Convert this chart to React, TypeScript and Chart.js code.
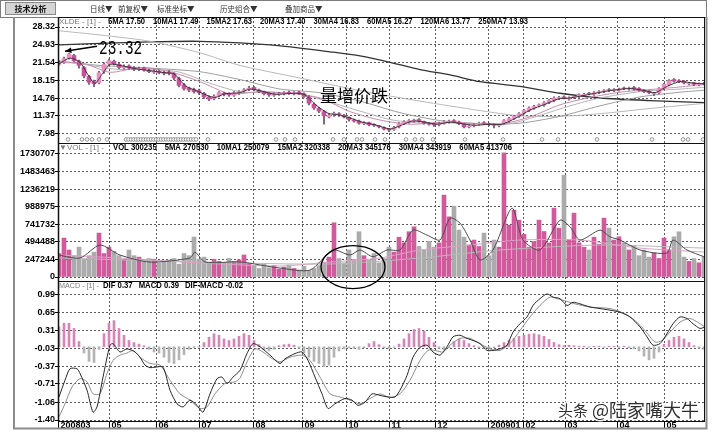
import React, { useEffect, useRef } from 'react';
import { Chart, registerables } from 'chart.js';

Chart.register(...registerables);

// ---------------- data ----------------
const MONTH_POS = [-0.2, 10, 19.4, 28, 38.8, 48.6, 57.4, 66, 75.2, 85.8, 92.8, 101.2, 111.6, 121];
const MONTH_LABELS = ['200803', '05', '06', '07', '08', '09', '10', '11', '12', '200901', '02', '03', '04', '05'];

const PRICE_TICKS = [28.32, 24.93, 21.54, 18.15, 14.76, 11.37, 7.98];
const VOL_TICKS = [1730707, 1483463, 1236219, 988975, 741732, 494488, 247244, 0];
const MACD_TICKS = [0.99, 0.65, 0.31, -0.03, -0.37, -0.71, -1.06, -1.4];

const CLOSE = [
  21.5, 22.3, 23.2, 21.9, 21.0, 19.0, 17.8, 17.5, 19.6, 21.2,
  21.9, 21.3, 20.6, 20.8, 20.5, 20.3, 20.4, 20.1, 19.8, 19.9,
  19.6, 19.5, 19.5, 18.6, 17.2, 16.6, 16.3, 16.0, 15.8, 15.0,
  14.6, 15.1, 15.8, 15.5, 15.4, 15.8, 16.0, 16.4, 16.7, 16.4,
  16.0, 15.6, 15.4, 15.6, 15.7, 15.8, 15.7, 15.8, 15.7, 15.1,
  13.8, 12.9, 12.3, 11.4, 11.5, 11.9, 11.6, 11.2, 10.7, 10.4,
  10.0, 10.1, 9.7, 9.6, 9.3, 8.9, 8.7, 9.2, 9.9, 10.3,
  10.5, 10.6, 10.4, 10.0, 9.8, 9.7, 10.0, 10.3, 10.4, 10.3,
  9.9, 9.3, 9.5, 9.7, 10.0, 9.9, 9.7, 9.6, 9.7, 10.5,
  10.9, 11.3, 11.8, 12.4, 12.9, 13.2, 13.5, 13.9, 14.3, 14.8,
  14.9, 14.8, 14.8, 15.1, 15.4, 15.5, 15.6, 15.8, 16.0, 16.2,
  16.3, 16.4, 16.5, 16.6, 16.7, 16.5, 16.3, 16.0, 15.8, 15.7,
  16.6, 17.4, 18.1, 18.0, 17.9, 17.7, 17.6, 17.4, 17.5, 17.5,
];
const OPEN = [
  21.2, 21.6, 22.4, 22.9, 21.8, 20.6, 18.9, 17.9, 17.7, 19.8,
  21.3, 21.8, 21.2, 20.5, 20.9, 20.6, 20.2, 20.5, 20.1, 19.7,
  19.9, 19.7, 19.7, 19.4, 18.5, 17.3, 16.7, 16.4, 16.2, 15.7,
  15.0, 14.7, 15.2, 15.7, 15.6, 15.3, 15.7, 16.1, 16.4, 16.8,
  16.3, 16.0, 15.7, 15.3, 15.5, 15.6, 15.9, 15.6, 15.9, 15.6,
  15.0, 13.6, 12.8, 12.2, 11.2, 11.6, 11.8, 11.5, 11.1, 10.6,
  10.4, 9.9, 10.1, 9.8, 9.5, 9.2, 8.9, 8.8, 9.3, 9.9,
  10.2, 10.4, 10.7, 10.3, 10.0, 9.9, 9.7, 10.0, 10.2, 10.5,
  10.2, 9.8, 9.3, 9.5, 9.8, 10.1, 9.9, 9.8, 9.5, 9.8,
  10.4, 10.9, 11.3, 11.9, 12.4, 12.8, 13.3, 13.4, 13.9, 14.3,
  14.7, 15.0, 14.6, 14.9, 15.1, 15.3, 15.7, 15.5, 15.8, 16.0,
  16.4, 16.2, 16.3, 16.7, 16.5, 16.8, 16.6, 16.3, 16.1, 15.6,
  15.8, 16.6, 17.3, 18.3, 18.1, 18.0, 17.5, 17.7, 17.3, 17.6,
];
const HIGH = [
  21.9, 22.6, 23.32, 23.1, 22.0, 20.8, 19.1, 18.2, 19.9, 21.5,
  22.2, 22.0, 21.4, 21.1, 21.1, 20.8, 20.7, 20.7, 20.3, 20.2,
  20.1, 19.9, 20.0, 19.6, 18.8, 17.6, 16.9, 16.7, 16.5, 15.9,
  15.2, 15.4, 16.0, 15.9, 15.8, 16.0, 16.2, 16.6, 17.0, 17.0,
  16.5, 16.1, 15.8, 15.8, 15.9, 16.0, 16.1, 16.0, 16.1, 15.8,
  15.2, 13.9, 13.0, 12.4, 11.8, 12.1, 12.0, 11.7, 11.2, 10.8,
  10.6, 10.3, 10.2, 9.9, 9.6, 9.3, 9.0, 9.4, 10.1, 10.5,
  10.7, 10.8, 10.9, 10.4, 10.1, 10.0, 10.2, 10.5, 10.6, 10.7,
  10.4, 9.9, 9.7, 9.9, 10.2, 10.3, 10.0, 9.9, 9.8, 10.7,
  11.1, 11.5, 12.0, 12.6, 13.1, 13.4, 13.7, 14.1, 14.5, 15.0,
  15.1, 15.2, 15.0, 15.3, 15.6, 15.7, 15.9, 16.0, 16.2, 16.4,
  16.6, 16.6, 16.7, 16.9, 16.9, 17.0, 16.8, 16.4, 16.2, 15.9,
  16.8, 17.6, 18.3, 18.5, 18.3, 18.1, 17.8, 17.8, 17.7, 17.8,
];
const LOW = [
  21.0, 21.4, 22.2, 21.7, 20.5, 18.6, 17.4, 16.95, 17.5, 19.5,
  21.0, 21.1, 20.4, 20.3, 20.3, 20.0, 20.0, 19.9, 19.6, 19.5,
  19.4, 19.2, 19.2, 18.3, 16.9, 16.3, 16.0, 15.7, 15.5, 14.7,
  14.3, 14.5, 15.0, 15.2, 15.1, 15.1, 15.5, 15.9, 16.2, 16.2,
  15.8, 15.4, 15.1, 15.1, 15.3, 15.4, 15.5, 15.4, 15.5, 14.9,
  13.5, 12.6, 12.0, 9.8, 11.0, 11.3, 11.3, 11.0, 10.4, 10.2,
  9.8, 9.7, 9.5, 9.4, 9.1, 8.7, 8.4, 8.6, 9.1, 9.7,
  10.0, 10.2, 10.2, 9.8, 9.6, 9.4, 9.5, 9.8, 10.0, 10.1,
  9.7, 9.1, 9.1, 9.3, 9.6, 9.7, 9.5, 9.1, 9.3, 9.7,
  10.2, 10.7, 11.1, 11.7, 12.2, 12.6, 13.1, 13.2, 13.7, 14.1,
  14.5, 14.6, 14.4, 14.7, 14.9, 15.2, 15.4, 15.3, 15.6, 15.8,
  16.0, 16.0, 16.1, 16.4, 16.3, 16.3, 16.1, 15.8, 15.6, 15.3,
  15.6, 16.4, 17.1, 17.8, 17.7, 17.5, 17.3, 17.2, 17.1, 17.3,
];

const VOLUME = [
  330000, 548000, 380000, 300000, 420000, 250000, 300000, 350000, 618000, 330000,
  420000, 360000, 300000, 250000, 380000, 300000, 280000, 220000, 260000, 250000,
  200000, 220000, 240000, 260000, 180000, 330000, 300000, 562000, 250000, 280000,
  200000, 250000, 220000, 200000, 260000, 220000, 240000, 310000, 190000, 150000,
  120000, 180000, 130000, 160000, 110000, 140000, 170000, 120000, 100000, 150000,
  90000, 120000, 160000, 210000, 280000, 763000, 260000, 200000, 380000, 250000,
  637000, 300000, 240000, 330000, 200000, 260000, 420000, 350000, 560000, 480000,
  637000, 707000, 430000, 380000, 500000, 420000, 480000, 1152000, 847000, 997000,
  660000, 560000, 450000, 520000, 430000, 618000, 300000, 520000, 420000, 1746000,
  730000, 941000, 800000, 600000, 420000, 500000, 800000, 640000, 480000, 969000,
  688000, 1433000, 520000, 899000, 480000, 420000, 380000, 560000, 460000, 829000,
  688000, 520000, 566000, 480000, 380000, 440000, 300000, 380000, 280000, 340000,
  260000, 548000, 380000, 566000, 636000, 280000, 220000, 260000, 200000, 280000,
];

const MACD_HIST = [
  0.38, 0.45, 0.45, 0.35, 0.1, -0.12, -0.28, -0.3, -0.05, 0.25,
  0.45, 0.5, 0.35, 0.22, 0.12, 0.08, 0.05, 0.02, -0.05, -0.1,
  -0.12, -0.2, -0.3, -0.32, -0.25, -0.15, -0.05, -0.02, -0.01, 0.08,
  0.18, 0.25, 0.22, 0.15, 0.12, 0.15, 0.2, 0.25, 0.22, 0.12,
  0.04, -0.06, -0.08, -0.05, 0.02, 0.04, 0.05, 0.03, -0.03, -0.12,
  -0.2, -0.28, -0.32, -0.38, -0.35, -0.2, -0.08, -0.04, -0.02, -0.03,
  -0.05, -0.02, 0.06, 0.1, 0.04, -0.02, -0.03, -0.01, 0.05, 0.15,
  0.25, 0.33, 0.35, 0.3, 0.18, 0.08, -0.03, -0.06, -0.02, 0.1,
  0.15, 0.12, 0.06, 0.02, -0.02, -0.03, -0.04, -0.02, 0.03, 0.08,
  0.12, 0.16, 0.2, 0.22, 0.24, 0.25, 0.23, 0.2, 0.14, 0.08,
  0.04, 0.02, 0.03, 0.02, 0.01, 0.01, -0.01, 0.01, 0.01, -0.01,
  0.01, 0.01, -0.01, 0.01, -0.02, -0.04, -0.08, -0.18, -0.25, -0.22,
  -0.1, 0.05, 0.12, 0.18, 0.2, 0.15, 0.08, 0.02, -0.03, -0.05,
];

const DIF: [number, number][] = [
  [0, -0.96], [1.2, -0.64], [2.2, -0.42], [3.6, -0.42], [4.2, -0.51], [5.6, -0.83], [6.8, -1.25], [7.6, -1.15],
  [8.8, -0.58], [10.2, 0.03], [10.8, 0.06], [12.2, -0.1], [13.6, -0.04], [15.2, -0.1], [16.2, -0.2], [17.2, -0.35],
  [18.2, -0.4], [19.2, -0.39], [20.8, -0.39], [22.2, -0.83], [23.6, -1.09], [24.8, -1.15], [26.2, -1.02], [27.6, -1.12],
  [28.8, -1.25], [30.2, -0.9], [31.6, -0.61], [32.6, -0.58], [33.6, -0.7], [34.8, -0.58], [36.2, -0.45], [37.6, -0.13],
  [38.8, 0.06], [40.2, 0.0], [42.2, -0.16], [44.2, -0.32], [45.2, -0.23], [47.2, -0.13], [48.6, -0.1], [49.8, -0.26],
  [51.2, -0.58], [52.6, -0.9], [53.8, -1.18], [55.2, -1.09], [57.2, -0.99], [58.6, -1.02], [59.8, -1.12], [61.2, -1.06],
  [62.6, -0.9], [64.2, -0.93], [65.8, -0.96], [67.2, -0.96], [68.2, -0.83], [69.6, -0.55], [70.8, -0.2], [72.2, -0.01],
  [73.6, 0.03], [74.8, -0.1], [76.2, -0.16], [77.6, 0.0], [78.8, 0.19], [80.2, 0.22], [81.6, 0.16], [82.8, 0.12],
  [84.2, 0.06], [85.6, -0.07], [86.8, -0.07], [88.2, -0.04], [89.6, 0.03], [90.8, 0.28], [92.2, 0.44], [93.6, 0.57],
  [94.8, 0.79], [96.2, 0.92], [97.6, 1.01], [98.8, 0.95], [100.2, 0.92], [101.6, 0.79], [102.8, 0.85], [104.2, 0.82],
  [106.2, 0.76], [108.2, 0.73], [110.2, 0.7], [112.2, 0.66], [114.2, 0.57], [116.2, 0.38], [117.6, 0.19], [118.8, 0.03],
  [120.2, 0.06], [121.6, 0.25], [122.8, 0.44], [124.2, 0.57], [125.6, 0.54], [126.8, 0.44], [128.2, 0.35], [129, 0.37],
];
const DEA: [number, number][] = [
  [0, -1.34], [1.2, -1.09], [2.6, -0.77], [4.2, -0.61], [5.6, -0.67], [6.8, -0.9], [8.2, -0.9], [9.6, -0.51],
  [10.8, -0.26], [12.2, -0.16], [13.6, -0.12], [14.8, -0.07], [16.2, -0.2], [18.2, -0.32], [20.2, -0.35], [22.2, -0.64],
  [24.2, -0.9], [26.2, -1.02], [28.2, -1.18], [29.6, -1.15], [31.2, -0.9], [33.2, -0.7], [35.2, -0.67], [36.2, -0.6],
  [37.6, -0.29], [39.2, -0.04], [40.8, -0.1], [42.2, -0.2], [44.2, -0.29], [46.2, -0.2], [48.6, -0.16], [50.2, -0.26],
  [52.2, -0.58], [54.2, -0.9], [56.2, -0.96], [58.2, -1.02], [60.2, -1.09], [62.2, -0.99], [64.2, -0.9], [66.2, -0.97],
  [68.2, -0.9], [70.2, -0.64], [72.2, -0.26], [73.8, -0.07], [75.2, -0.07], [76.8, -0.1], [78.2, 0.03], [80.2, 0.16],
  [82.2, 0.16], [84.2, 0.06], [86.2, -0.04], [88.2, -0.07], [90.2, 0.06], [92.2, 0.31], [94.2, 0.57], [96.2, 0.79],
  [98.2, 0.95], [99.6, 0.92], [100.8, 0.89], [103.2, 0.82], [106.2, 0.76], [110.2, 0.73], [113.2, 0.63], [115.2, 0.5],
  [117.2, 0.31], [119.2, 0.09], [120.6, 0.12], [122.2, 0.28], [124.2, 0.47], [126.2, 0.54], [128.2, 0.44], [129, 0.39],
];

const MA5: [number, number][] = [
  [0, 21.3], [2.2, 22.4], [4.2, 21.6], [5.8, 19.2], [7.2, 17.6], [8.6, 19.3], [10.2, 21.2], [12.2, 21.0], [15.2, 20.4],
  [18.2, 20.0], [21.2, 19.6], [23, 19.4], [24.2, 18.2], [25.4, 17.0], [27.2, 16.3], [29.6, 15.3], [31.2, 14.9],
  [33.2, 15.6], [36.2, 15.8], [38.2, 16.5], [40.6, 16.1], [43.2, 15.5], [47.2, 15.7], [49.2, 15.4], [51.2, 13.6],
  [53.8, 11.9], [55.8, 11.6], [58.2, 11.0], [60.6, 10.2], [63.2, 9.7], [66.2, 8.9], [68.2, 9.5], [70.6, 10.4],
  [73.2, 10.2], [75.6, 9.8], [78.2, 10.2], [80.6, 9.9], [83.2, 9.6], [86.2, 9.8], [88.6, 9.8], [91.2, 10.9],
  [94.2, 12.5], [97.2, 13.6], [99.8, 14.6], [102.2, 14.8], [106.2, 15.5], [110.2, 16.2], [114.2, 16.6], [117.2, 16.2],
  [119.2, 15.8], [121.8, 17.1], [124.2, 17.9], [127.2, 17.6], [129, 17.5],
];
const MA20: [number, number][] = [
  [0, 21.6], [5.2, 21.3], [10.2, 19.7], [16.2, 20.6], [22.2, 19.8], [28.2, 17.9], [34.2, 15.6], [40.2, 16.0],
  [46.2, 15.7], [52.2, 14.8], [58.2, 12.2], [64.2, 10.6], [70.2, 9.8], [76.2, 10.1], [82.2, 10.0], [88.2, 9.8],
  [94.2, 11.2], [100.2, 13.5], [106.2, 14.9], [112.2, 15.9], [118.2, 16.4], [124.2, 16.9], [129, 17.4],
];
const MA30: [number, number][] = [
  [0, 21.9], [6.2, 21.0], [12.2, 20.2], [18.2, 20.3], [24.2, 19.7], [30.2, 17.6], [36.2, 16.0], [42.2, 15.8],
  [48.2, 15.6], [54.2, 14.0], [60.2, 12.3], [66.2, 10.7], [72.2, 10.0], [78.2, 10.1], [84.2, 9.9], [90.2, 9.9],
  [96.2, 11.5], [102.2, 13.3], [108.2, 14.8], [116.2, 16.0], [124.2, 16.5], [129, 16.83],
];
const MA60: [number, number][] = [
  [0, 21.8], [8.2, 21.0], [18.2, 20.5], [28.2, 19.8], [36.2, 18.3], [44.2, 16.5], [52.2, 15.8], [60.2, 14.2],
  [68.2, 12.0], [76.2, 10.5], [84.2, 9.9], [92.2, 10.0], [100.2, 11.3], [108.2, 13.3], [116.2, 15.0], [124.2, 15.9],
  [129, 16.27],
];
const MA120: [number, number][] = [
  [0, 27.6], [8.2, 26.8], [18.2, 25.6], [28.2, 23.4], [36.2, 21.0], [48.2, 18.6], [60.2, 16.2], [72.2, 14.2],
  [84.2, 12.4], [92.2, 11.4], [100.2, 11.3], [108.2, 11.8], [118.2, 12.8], [129, 13.77],
];
const MA250: [number, number][] = [
  [0, 24.9], [8.2, 25.2], [18.2, 25.5], [28.2, 25.6], [36.2, 25.3], [42.2, 24.9], [48.2, 24.3], [54.2, 23.6],
  [60.2, 22.8], [66.2, 21.6], [72.2, 20.2], [78.2, 19.2], [84.2, 17.9], [92.2, 17.0], [100.2, 15.7], [108.2, 14.8],
  [118.2, 14.3], [129, 13.93],
];

const VOL_MA5: [number, number][] = [
  [0, 309000], [4.2, 267000], [8.2, 450000], [12.2, 309000], [18.2, 210000], [26.2, 267000], [27.2, 351000],
  [29.2, 211000], [36.2, 211000], [44.2, 126000], [50.2, 98000], [54.8, 380000], [58.2, 309000], [60.2, 380000],
  [62.8, 285000], [65.6, 380000], [68.2, 380000], [70.8, 660000], [73.6, 590000], [76.2, 520000], [78.2, 829000],
  [80.2, 758000], [82.2, 520000], [84.2, 239000], [86.8, 380000], [90.6, 969000], [92.8, 520000], [96.2, 380000],
  [100.2, 800000], [102.2, 707000], [104.2, 520000], [108.2, 660000], [110.2, 566000], [112.2, 520000],
  [116.2, 380000], [121.6, 337000], [122.8, 520000], [125.6, 380000], [129, 285000],
];
const VOL_MA20: [number, number][] = [
  [0, 309000], [12.2, 267000], [28.2, 197000], [44.2, 155000], [54.2, 210000], [64.2, 267000], [72.2, 380000],
  [82.2, 450000], [92.2, 520000], [104.2, 520000], [116.2, 407000], [129, 351000],
];
const VOL_MA60: [number, number][] = [
  [0, 267000], [28.2, 211000], [54.2, 183000], [72.2, 267000], [88.2, 380000], [108.2, 450000], [129, 407000],
];

const SIGNAL_DAYS = [
  1.8, 4.6, 5.6, 6.6, 8, 9.6, 13.4, 13.9, 14.4, 14.9, 15.4, 15.9, 16.4, 16.9, 17.4, 17.9, 18.4, 18.9, 19.4,
  19.9, 20.4, 20.9, 21.4, 21.9, 22.4, 22.9, 23.4, 23.9, 24.4, 24.9, 25.4, 25.9, 26.4, 26.9, 27.4, 29.8,
  43.4, 45.2, 47.2, 54.8, 57, 59.6, 60.6, 63.2, 65.2, 69.4, 71.2, 72.6, 74.8, 81.2, 88.8, 96.6, 99.8,
  107.6, 118.6, 124.8, 125.8, 128.8,
];
const SIGNAL_LEVEL = 6.9;

const PEAK_DAY = 2;
const PEAK_PRICE = 23.32;
const NOTE_TEXT = '量增价跌';
const NOTE_DAY = 52.2;
const NOTE_PRICE = 15.2;
const CIRCLE_DAY = 58.8;
const CIRCLE_VOL = 140000;

const TOOLBAR_TITLE = '技术分析';
const TOOLBAR_ITEMS = ['日线▼', '前复权▼', '标准坐标▼', '历史组合▼', '叠加商品▼'];
const PRICE_PREFIX = 'XLDE - [1] -';
const PRICE_LEGEND = ['5MA 17.50', '10MA1 17.49', '15MA2 17.63', '20MA3 17.40', '30MA4 16.83', '60MA5 16.27', '120MA6 13.77', '250MA7 13.93'];
const VOL_PREFIX = '▼VOL - [1] -';
const VOL_LEGEND = ['VOL 300235', '5MA 270530', '10MA1 250079', '15MA2 320338', '20MA3 345176', '30MA4 343919', '60MA5 413706'];
const MACD_PREFIX = 'MACD - [1] -';
const MACD_LEGEND = ['DIF 0.37', 'MACD 0.39', 'DIF-MACD -0.02'];
const WATERMARK = ['头条', '@陆家嘴大牛'];

// ---------------- styling ----------------
const SANS = '"Liberation Sans", Arial, sans-serif';
const CJK = '"Noto Sans CJK SC", "Noto Sans", sans-serif';
const TOOLBAR_X = [90, 118, 157, 220, 285];

const pts = (p: [number, number][]) => p.map(([x, y]) => ({ x, y }));

function line(data: [number, number][], color: string, width: number, yAxisID: string, order: number) {
  return {
    type: 'line',
    data: pts(data),
    yAxisID,
    borderColor: color,
    borderWidth: width,
    pointRadius: 0,
    tension: 0.25,
    order,
  };
}

// legend row: gray prefix + bold items squeezed to fit between x0 and x1
function drawLegend(ctx: any, top: number, prefix: string, items: string[], x0: number, x1: number, gap: number) {
  const y = top + 5;
  ctx.textBaseline = 'middle';
  ctx.textAlign = 'left';
  ctx.font = `8px ${SANS}`;
  ctx.fillStyle = '#7a7a7a';
  const pw = ctx.measureText(prefix).width;
  const ps = Math.min(1, (x0 - 63) / pw);
  ctx.save();
  ctx.translate(59, y);
  ctx.scale(ps, 1);
  ctx.fillText(prefix, 0, 0);
  ctx.restore();

  ctx.font = `bold 9px ${SANS}`;
  ctx.fillStyle = '#000';
  const widths = items.map((t) => ctx.measureText(t).width);
  const total = widths.reduce((a, b) => a + b, 0);
  const s = Math.min(1, (x1 - x0 - gap * (items.length - 1)) / total);
  let x = x0;
  items.forEach((t, i) => {
    ctx.save();
    ctx.translate(x, y);
    ctx.scale(s, 1);
    ctx.fillText(t, 0, 0);
    ctx.restore();
    x += widths[i] * s + gap;
  });
}

const decorPlugin = {
  id: 'decor',
  afterDraw(chart: any) {
    const { ctx, chartArea: ca, scales } = chart;
    const xs = scales.x;
    const yP = scales.yP;
    const yV = scales.yV;
    const yM = scales.yM;
    ctx.save();

    // toolbar
    ctx.strokeStyle = '#7d7d7d';
    ctx.lineWidth = 1;
    ctx.strokeRect(0.5, 0.5, 706, 17);
    ctx.fillStyle = '#d5d5d5';
    ctx.fillRect(5, 2, 51, 13);
    ctx.strokeStyle = '#8a8a8a';
    ctx.strokeRect(5.5, 2.5, 50, 12);
    ctx.fillStyle = '#111';
    ctx.font = `bold 8px ${CJK}`;
    ctx.textAlign = 'center';
    ctx.textBaseline = 'middle';
    ctx.fillText(TOOLBAR_TITLE, 30.5, 9);
    ctx.textAlign = 'left';
    ctx.font = `7.5px ${CJK}`;
    ctx.fillStyle = '#333';
    TOOLBAR_ITEMS.forEach((t, i) => ctx.fillText(t, TOOLBAR_X[i], 9));

    // outer frame
    ctx.strokeStyle = '#8c8c8c';
    ctx.lineWidth = 2;
    ctx.beginPath();
    ctx.moveTo(14, 17);
    ctx.lineTo(14, 428.5);
    ctx.lineTo(706.5, 428.5);
    ctx.lineTo(706.5, 17);
    ctx.stroke();

    // panel frames
    ctx.strokeStyle = '#111';
    ctx.lineWidth = 1;
    [yP, yV, yM].forEach((ax: any) => {
      const t = Math.round(ax.top) + 0.5;
      const b = Math.round(ax.bottom) + 0.5;
      ctx.strokeRect(Math.round(ca.left) + 0.5, t, Math.round(ca.right - ca.left) - 1, b - t);
    });
    ctx.lineWidth = 1.5;
    ctx.beginPath();
    ctx.moveTo(ca.left + 0.5, ca.top);
    ctx.lineTo(ca.left + 0.5, ca.bottom);
    ctx.stroke();

    // legends
    drawLegend(ctx, yP.top, PRICE_PREFIX, PRICE_LEGEND, 108, 528, 8);
    drawLegend(ctx, yV.top, VOL_PREFIX, VOL_LEGEND, 113, 512, 8);
    drawLegend(ctx, yM.top, MACD_PREFIX, MACD_LEGEND, 103, 243, 6);

    // peak annotation with arrow
    const tipX = xs.getPixelForValue(PEAK_DAY) - 4;
    const tipY = yP.getPixelForValue(PEAK_PRICE) - 2;
    const sx = tipX + 32;
    const sy = tipY - 5;
    ctx.strokeStyle = '#000';
    ctx.fillStyle = '#000';
    ctx.lineWidth = 1.3;
    ctx.beginPath();
    ctx.moveTo(sx, sy);
    ctx.lineTo(tipX, tipY);
    ctx.stroke();
    const ang = Math.atan2(sy - tipY, sx - tipX);
    ctx.beginPath();
    ctx.moveTo(tipX, tipY);
    ctx.lineTo(tipX + 7 * Math.cos(ang - 0.4), tipY + 7 * Math.sin(ang - 0.4));
    ctx.lineTo(tipX + 7 * Math.cos(ang + 0.4), tipY + 7 * Math.sin(ang + 0.4));
    ctx.closePath();
    ctx.fill();
    ctx.save();
    ctx.translate(sx + 2, sy + 2);
    ctx.scale(0.72, 1);
    ctx.font = `20px "Liberation Mono", "DejaVu Sans Mono", monospace`;
    ctx.textAlign = 'left';
    ctx.textBaseline = 'middle';
    ctx.fillText(PEAK_PRICE.toFixed(2), 0, 0);
    ctx.restore();

    // note text
    ctx.font = `17px ${CJK}`;
    ctx.textAlign = 'left';
    ctx.textBaseline = 'middle';
    ctx.fillStyle = '#000';
    ctx.fillText(NOTE_TEXT, xs.getPixelForValue(NOTE_DAY), yP.getPixelForValue(NOTE_PRICE));

    // ellipse around the volume cluster
    ctx.strokeStyle = '#000';
    ctx.lineWidth = 1.3;
    ctx.beginPath();
    ctx.ellipse(xs.getPixelForValue(CIRCLE_DAY), yV.getPixelForValue(CIRCLE_VOL), 32, 21.5, 0, 0, Math.PI * 2);
    ctx.stroke();

    // watermark
    ctx.textBaseline = 'middle';
    ctx.lineJoin = 'round';
    ctx.strokeStyle = 'rgba(255,255,255,0.9)';
    ctx.lineWidth = 3;
    ctx.fillStyle = '#2e2e2e';
    ctx.font = `15px ${CJK}`;
    ctx.strokeText(WATERMARK[0], 558, 410);
    ctx.fillText(WATERMARK[0], 558, 410);
    ctx.font = `18px ${CJK}`;
    ctx.strokeText(WATERMARK[1], 592, 410);
    ctx.fillText(WATERMARK[1], 592, 410);

    ctx.restore();
  },
};

const tickFont = { family: SANS, size: 9, weight: 'bold' as const };

function yAxis(ticksArr: number[], min: number, max: number, weight: number, stackWeight: number, fmt: (v: number) => string) {
  return {
    type: 'linear',
    position: 'left',
    stack: 'panels',
    stackWeight,
    weight,
    min,
    max,
    bounds: 'data',
    offset: false,
    afterBuildTicks: (s: any) => {
      s.ticks = ticksArr.map((v) => ({ value: v }));
    },
    afterFit: (s: any) => {
      s.width = 58;
      s.paddingTop = 0;
      s.paddingBottom = 0;
    },
    ticks: {
      autoSkip: false,
      padding: 0,
      color: '#000',
      font: tickFont,
      callback: (v: any) => fmt(Number(v)),
    },
    grid: { color: '#5a5a5a', lineWidth: 1, tickLength: 3, drawTicks: true, tickBorderDash: [1, 0], tickColor: '#000' },
    border: { display: false, dash: [2, 2] },
  };
}

export default function App() {
  const ref = useRef<HTMLCanvasElement>(null);

  useEffect(() => {
    const bodies = CLOSE.map((c, i) => ({ x: i, y: [OPEN[i], c] }));
    const wicks = CLOSE.map((_, i) => ({ x: i, y: [LOW[i], HIGH[i]] }));
    const up = CLOSE.map((c, i) => c >= OPEN[i]);

    const chart = new Chart(ref.current as HTMLCanvasElement, {
      type: 'bar',
      data: {
        datasets: [
          // MACD panel
          line(DIF, '#262626', 1, 'yM', 1),
          line(DEA, '#8e8e8e', 1, 'yM', 2),
          {
            type: 'bar',
            data: MACD_HIST.map((v, i) => ({ x: i, y: v })),
            yAxisID: 'yM',
            grouped: false,
            barThickness: 2,
            backgroundColor: MACD_HIST.map((v) => (v >= 0 ? '#d487b6' : '#b4b4b4')),
            order: 20,
          },
          // volume panel
          line(VOL_MA5, '#4d4d4d', 1, 'yV', 3),
          line(VOL_MA20, '#d9a3c6', 1, 'yV', 4),
          line(VOL_MA60, '#b8b8b8', 1, 'yV', 5),
          {
            type: 'bar',
            data: VOLUME.map((v, i) => ({ x: i, y: v })),
            yAxisID: 'yV',
            grouped: false,
            barThickness: 4,
            backgroundColor: up.map((u) => (u ? '#d15a9c' : '#ababab')),
            order: 21,
          },
          // price panel
          {
            type: 'line',
            data: SIGNAL_DAYS.map((d) => ({ x: d, y: SIGNAL_LEVEL })),
            yAxisID: 'yP',
            showLine: false,
            pointRadius: 1.8,
            pointBackgroundColor: '#fff',
            pointBorderColor: '#7a7a7a',
            pointBorderWidth: 0.8,
            order: 1,
          },
          line(MA5, '#2b2b2b', 0.9, 'yP', 2),
          {
            type: 'bar',
            data: bodies,
            yAxisID: 'yP',
            grouped: false,
            barThickness: 4,
            backgroundColor: up.map((u) => (u ? '#ea8fc2' : '#c9509a')),
            order: 6,
          },
          {
            type: 'bar',
            data: wicks,
            yAxisID: 'yP',
            grouped: false,
            barThickness: 1,
            backgroundColor: '#6f4a60',
            order: 7,
          },
          line(MA20, '#c98bb0', 1, 'yP', 8),
          line(MA30, '#b5b5b5', 1, 'yP', 9),
          line(MA60, '#9e9e9e', 1, 'yP', 10),
          line(MA120, '#b9b9b9', 1, 'yP', 11),
          line(MA250, '#333333', 1.3, 'yP', 12),
        ],
      } as any,
      options: {
        animation: false,
        responsive: false,
        devicePixelRatio: 1,
        events: [],
        layout: { padding: { top: 17, right: 15, left: 0, bottom: 0 }, autoPadding: false },
        plugins: { legend: { display: false }, tooltip: { enabled: false } },
        scales: {
          x: {
            type: 'linear',
            position: 'bottom',
            min: -0.2,
            max: 129.2,
            bounds: 'data',
            offset: false,
            afterBuildTicks: (s: any) => {
              s.ticks = MONTH_POS.map((v) => ({ value: v }));
            },
            afterFit: (s: any) => {
              s.height = 11;
              s.paddingLeft = 0;
              s.paddingRight = 0;
            },
            ticks: {
              autoSkip: false,
              maxRotation: 0,
              minRotation: 0,
              align: 'start',
              padding: -8,
              color: '#000',
              font: tickFont,
              callback: (_v: any, i: number) => ' ' + MONTH_LABELS[i],
            },
            grid: { color: '#5a5a5a', lineWidth: 1, tickLength: 7, drawTicks: true, offset: false, tickBorderDash: [1, 0], tickColor: '#000' },
            border: { display: false, dash: [2, 2] },
          },
          yP: yAxis(PRICE_TICKS, 6.225, 30.225, 3, 126, (v) => v.toFixed(2)),
          yV: yAxis(VOL_TICKS, -56192, 1885235, 2, 138, (v) => String(Math.round(v))),
          yM: yAxis(MACD_TICKS, -1.419, 1.257, 1, 140, (v) => v.toFixed(2)),
        },
      } as any,
      plugins: [decorPlugin],
    });
    return () => chart.destroy();
  }, []);

  return (
    <div style={{ position: 'absolute', left: 0, top: 0, width: 720, height: 432, background: '#fff' }}>
      <canvas ref={ref} width={720} height={432} style={{ display: 'block', width: 720, height: 432 }} />
    </div>
  );
}
